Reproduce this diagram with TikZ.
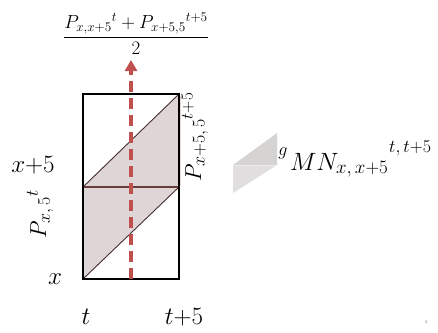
\RequirePackage{fix-cm}
\documentclass[tikz,border=0pt]{standalone}
\usepackage{amsmath}
\usepackage{fontspec}
\setmainfont{Liberation Serif}
\usetikzlibrary{arrows.meta}
\definecolor{redline}{RGB}{192,80,77}
\definecolor{pshade}{RGB}{222,214,214}
\definecolor{pinkedge}{RGB}{236,214,214}
\definecolor{edge}{RGB}{70,45,45}
\definecolor{midline}{RGB}{105,60,60}
\definecolor{miniup}{RGB}{214,211,211}
\definecolor{minilow}{RGB}{224,222,222}
\newcommand\msz[2]{\mbox{\fontsize{#1}{#1}\selectfont$#2$}}
\tikzset{
  axislab/.style={font=\fontsize{25}{28}\selectfont, inner sep=0pt},
  mathlab/.style={font=\fontsize{19}{22}\selectfont, inner sep=0pt},
  biglab/.style={font=\fontsize{23}{26}\selectfont, inner sep=0pt},
}
\begin{document}
\begin{tikzpicture}[x=1pt,y=-1pt]
\useasboundingbox (0,0) rectangle (438,332);
% shaded parallelogram
\fill[pshade] (83,187) -- (179,94) -- (179,187) -- (83,279) -- cycle;
\draw[pinkedge, line width=1pt] (180.5,96) -- (180.5,186);
\draw[edge, line width=0.9pt] (83,187) -- (179,94);
\draw[edge, line width=0.9pt] (83,279) -- (179,187);
\draw[midline, line width=1.6pt] (83,187) -- (179,187);
% box
\draw[black, line width=1.4pt] (83,94) rectangle (179,279);
% red dashed arrow
\coordinate (abot) at (131,279);
\coordinate (atop) at (131,60);
\draw[redline, line width=3.2pt, dash pattern=on 11pt off 6pt, -{Triangle[length=11pt,width=12pt]}] (abot) -- (atop);
% fraction
\node[mathlab] (frac) at (136,34) {$\dfrac{P_{x,x+5}{}^{t}+P_{x+5,5}{}^{t+5}}{2}$};
% axis labels
\node[axislab] (xp5) at (33,165) {$x{+}5$};
\node[axislab] (x) at (55,279) {$x$};
\node[axislab] (t) at (86,317) {$t$};
\node[axislab] (tp5) at (184,317) {$t{+}5$};
% rotated labels
\node[biglab, rotate=90] (pleft) at (40,214) {$P_{\msz{18}{x,5}}{}^{\msz{18}{t}}$};
\node[biglab, rotate=90] (pright) at (195,137) {$P_{\msz{18}{x{+}5,5}}{}^{\msz{17}{t{+}5}}$};
% mini shape
\fill[miniup] (233,165) -- (277,133) -- (277,165) -- cycle;
\fill[minilow] (233,165) -- (277,165) -- (233,193) -- cycle;
\draw[white!85!gray, line width=0.8pt] (233,165) -- (277,165);
% MN label
\node[font=\fontsize{18}{18}\selectfont, inner sep=0pt] (g) at (283,153) {$g$};
\node[font=\fontsize{25}{28}\selectfont, inner sep=0pt, anchor=base west] (mn) at (290,170) {$MN_{\msz{19}{x,x{+}5}}$};
\node[font=\fontsize{18}{18}\selectfont, inner sep=0pt, anchor=west] (sup) at (389,148) {$t,t{+}5$};
% tiny page mark
\node[font=\fontsize{4}{5}\selectfont, inner sep=0pt] (pg) at (426,322) {1};
\end{tikzpicture}
\end{document}
